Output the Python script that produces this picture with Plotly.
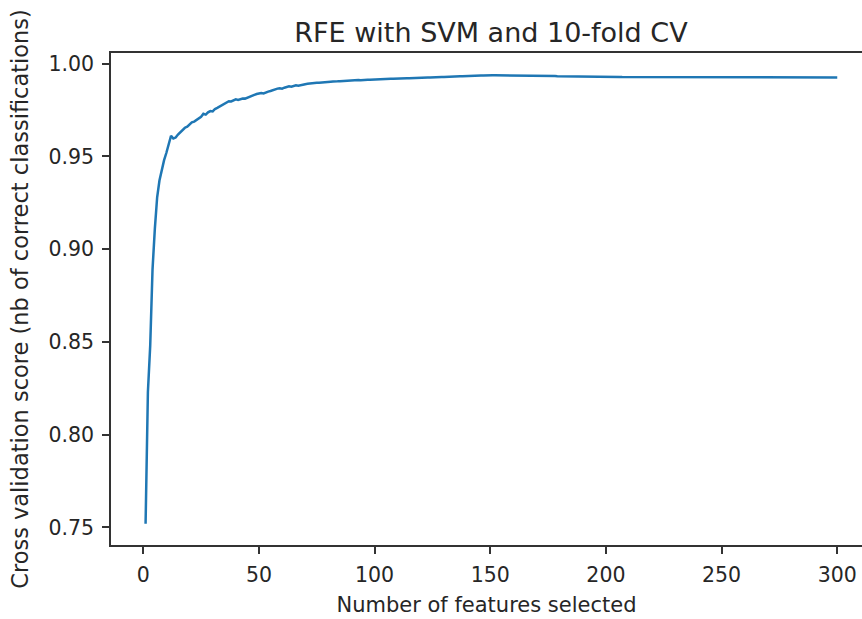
import plotly.graph_objects as go

n_features = list(range(1, 301))

cv_scores = [
    0.7520, 0.8230, 0.8480, 0.8890, 0.9110, 0.9280, 0.9370, 0.9435, 0.9480, 0.9520,
    0.9560, 0.9612, 0.9597, 0.9602, 0.9618, 0.9630, 0.9642, 0.9655, 0.9661, 0.9672,
    0.9684, 0.9688, 0.9697, 0.9706, 0.9714, 0.9730, 0.9726, 0.9738, 0.9745, 0.9743,
    0.9756, 0.9762, 0.9770, 0.9776, 0.9786, 0.9792, 0.9798, 0.9797, 0.9804, 0.9808,
    0.9805, 0.9810, 0.9813, 0.9812, 0.9818, 0.9822, 0.9828, 0.9832, 0.9837, 0.9840,
    0.9842, 0.9840, 0.9846, 0.9850, 0.9853, 0.9858, 0.9863, 0.9866, 0.9868, 0.9866,
    0.9871, 0.9874, 0.9878, 0.9876, 0.9880, 0.9884, 0.9882, 0.9886, 0.9888, 0.9890,
    0.9892, 0.9894, 0.9893, 0.9896, 0.9898, 0.9897, 0.9899, 0.9901, 0.9900, 0.9902,
    0.9903, 0.9904, 0.9903, 0.9905, 0.9906, 0.9907, 0.9906, 0.9908, 0.9909, 0.9909,
    0.9910, 0.9911, 0.9912, 0.9911, 0.9913, 0.9913, 0.9914, 0.9914, 0.9915, 0.9915,
    0.9916, 0.9916, 0.9917, 0.9917, 0.9918, 0.9918, 0.9919, 0.9919, 0.9920, 0.9920,
    0.9921, 0.9921, 0.9921, 0.9922, 0.9922, 0.9923, 0.9923, 0.9924, 0.9924, 0.9925,
    0.9925, 0.9925, 0.9926, 0.9926, 0.9927, 0.9927, 0.9927, 0.9928, 0.9928, 0.9928,
    0.9929, 0.9929, 0.9930, 0.9930, 0.9931, 0.9931, 0.9932, 0.9932, 0.9933, 0.9933,
    0.9934, 0.9934, 0.9935, 0.9935, 0.9936, 0.9937, 0.9937, 0.9938, 0.9938, 0.9939,
    0.9938, 0.9938, 0.9938, 0.9937, 0.9937, 0.9937, 0.9937, 0.9936, 0.9936, 0.9936,
    0.9936, 0.9937, 0.9937, 0.9937, 0.9937, 0.9937, 0.9936, 0.9936, 0.9936, 0.9935,
    0.9935, 0.9935, 0.9935, 0.9934, 0.9934, 0.9934, 0.9934, 0.9934, 0.9933, 0.9933,
    0.9933, 0.9933, 0.9933, 0.9933, 0.9933, 0.9932, 0.9932, 0.9932, 0.9932, 0.9932,
    0.9932, 0.9931, 0.9931, 0.9931, 0.9931, 0.9931, 0.9930, 0.9930, 0.9930, 0.9930,
    0.9930, 0.9929, 0.9929, 0.9929, 0.9929, 0.9929, 0.9928, 0.9928, 0.9928, 0.9928,
    0.9928, 0.9927, 0.9927, 0.9927, 0.9927, 0.9927, 0.9927, 0.9926, 0.9926, 0.9926,
    0.9926, 0.9926, 0.9926, 0.9926, 0.9926, 0.9926, 0.9926, 0.9926, 0.9926, 0.9926,
    0.9926, 0.9926, 0.9925, 0.9925, 0.9925, 0.9925, 0.9925, 0.9925, 0.9925, 0.9925,
    0.9925, 0.9925, 0.9925, 0.9925, 0.9925, 0.9926, 0.9926, 0.9926, 0.9926, 0.9926,
    0.9926, 0.9926, 0.9926, 0.9926, 0.9926, 0.9926, 0.9926, 0.9926, 0.9926, 0.9926,
    0.9926, 0.9926, 0.9926, 0.9926, 0.9926, 0.9926, 0.9926, 0.9926, 0.9926, 0.9926,
    0.9926, 0.9926, 0.9926, 0.9926, 0.9926, 0.9926, 0.9926, 0.9926, 0.9926, 0.9926,
    0.9926, 0.9926, 0.9926, 0.9926, 0.9926, 0.9926, 0.9926, 0.9926, 0.9926, 0.9926,
    0.9926, 0.9926, 0.9926, 0.9926, 0.9926, 0.9926, 0.9926, 0.9926, 0.9926, 0.9926,
]

x_ticks = [0, 50, 100, 150, 200, 250, 300]
y_ticks = [0.75, 0.80, 0.85, 0.90, 0.95, 1.00]

title_text = "RFE with SVM and 10-fold CV"
x_title = "Number of features selected"
y_title = "Cross validation score (nb of correct classifications)"

FONT = "DejaVu Sans"
TXT = "#262626"
AX = "#333333"

fig = go.Figure()
fig.add_trace(go.Scatter(
    x=n_features, y=cv_scores, mode="lines",
    line=dict(color="#1f77b4", width=2.5),
    showlegend=False,
))

fig.update_layout(
    width=862, height=619,
    margin=dict(l=111, r=0, t=53, b=74),
    paper_bgcolor="white", plot_bgcolor="white",
    font=dict(family=FONT, color=TXT, size=20),
    title=dict(text=title_text, x=491 / 862, xanchor="center",
               y=1 - 33 / 619, yanchor="middle",
               font=dict(family=FONT, size=27, color=TXT)),
)

fig.update_xaxes(
    range=[-13.95, 310.7],
    tickvals=x_ticks, ticktext=[str(v) for v in x_ticks],
    ticks="outside", ticklen=7, tickwidth=1.5, tickcolor=AX,
    showline=True, linecolor=AX, linewidth=1.5, mirror=True,
    showgrid=False, zeroline=False,
    tickfont=dict(family=FONT, size=20.5, color=TXT),
    ticklabelstandoff=4,
    title=dict(text=x_title, font=dict(family=FONT, size=21, color=TXT), standoff=11),
)
fig.update_yaxes(
    range=[0.7405, 1.0058],
    tickvals=y_ticks, ticktext=[f"{v:.2f}" for v in y_ticks],
    ticks="outside", ticklen=7, tickwidth=1.5, tickcolor=AX,
    showline=True, linecolor=AX, linewidth=1.5, mirror=False,
    showgrid=False, zeroline=False,
    tickfont=dict(family=FONT, size=20.5, color=TXT),
    ticklabelstandoff=4,
    title=dict(text=y_title, font=dict(family=FONT, size=22.5, color=TXT), standoff=14),
)

fig.write_html("out.html")
